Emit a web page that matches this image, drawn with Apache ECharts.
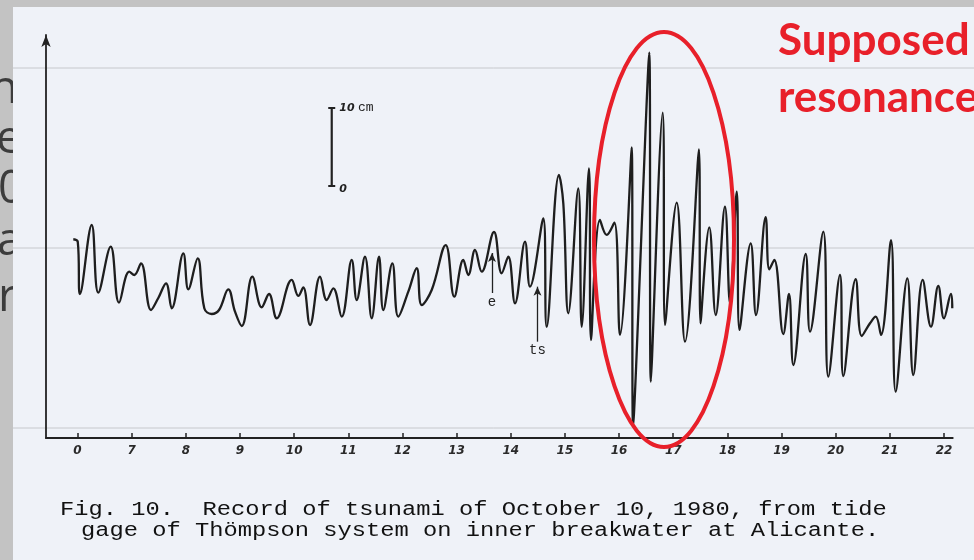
<!DOCTYPE html>
<html>
<head>
<meta charset="utf-8">
<script src="https://cdn.jsdelivr.net/npm/echarts@6/dist/echarts.min.js"></script>
<style>
html,body{margin:0;padding:0;background:#c3c3c3;}
#chart{width:974px;height:560px;}
</style>
</head>
<body>
<div id="chart"></div>
<script>
// time of record (hours)
const hours = [5.922,6.004,6.046,6.262,6.384,6.613,6.766,6.956,7.049,7.172,
  7.357,7.492,7.634,7.739,7.954,8.046,8.219,8.341,8.478,8.613,
  8.784,8.908,9.032,9.228,9.401,9.536,9.678,9.955,10.077,10.169,
  10.293,10.478,10.601,10.723,10.878,11.063,11.155,11.308,11.432,11.567,
  11.646,11.813,11.923,12.108,12.263,12.355,12.540,12.799,12.957,13.123,
  13.216,13.339,13.463,13.690,13.832,13.954,14.078,14.263,14.355,14.601,
  14.663,14.890,14.970,15.062,15.247,15.310,15.444,15.481,15.647,15.771,
  15.912,16.017,16.233,16.257,16.558,16.585,16.805,16.848,17.064,17.217,
  17.475,17.503,17.666,17.784,17.955,18.048,18.172,18.223,18.430,18.528,
  18.707,18.773,18.866,19.032,19.137,19.217,19.446,19.525,19.771,19.863,
  20.079,20.140,20.369,20.480,20.633,20.738,20.836,21.021,21.107,21.322,
  21.432,21.606,21.759,21.894,21.999,22.128,22.152];
// sea level (cm above the time axis)
const levelCm = [25.48,25.17,18.46,27.31,18.63,24.53,17.35,21.32,20.90,22.40,
  16.41,17.95,19.83,16.63,23.68,19.06,23.04,16.63,15.90,16.41,
  19.06,16.19,14.36,20.68,16.76,18.46,15.35,20.26,18.21,19.32,
  14.49,20.68,17.69,19.19,15.55,22.82,17.69,23.24,15.35,23.24,
  16.41,22.40,15.55,18.76,21.76,17.05,18.97,24.74,18.12,22.82,
  20.90,24.10,21.32,26.41,21.12,23.24,17.27,25.17,19.40,28.17,
  14.27,33.72,30.09,15.99,32.01,14.27,34.58,12.56,27.95,26.03,
  27.60,13.21,37.27,1.45,49.40,7.22,41.71,14.49,30.17,12.35,
  37.01,14.71,27.01,15.77,29.65,17.31,31.58,13.85,24.96,15.77,
  28.30,21.63,22.82,13.33,18.46,9.36,23.59,13.63,26.45,7.86,
  20.90,7.95,20.35,13.08,14.71,15.55,13.21,25.38,5.94,20.47,
  8.08,20.26,14.27,19.49,15.35,18.46,16.63];
const tickHours = [6,7,8,9,10,11,12,13,14,15,16,17,18,19,20,21,22];
const tickLabels = ['0','7','8','9','10','11','12','13','14','15','16','17','18','19','20','21','22'];
// annotation marks (hour, from cm, to cm)
const scaleBar = {hour: 10.694, bottom: 32.31, top: 42.31};
const arrowMarks = [
  {name: 'e', hour: 13.653, from: 18.59, to: 23.72},
  {name: 'ts', hour: 14.493, from: 12.35, to: 19.40}
];
const slideFragments = ['nl', 'e', '0', 'a,', 'r'];
const captionLines = [
  'Fig. 10.  Record of tsunami of October 10, 1980, from tide',
  'gage of Thömpson system on inner breakwater at Alicante.'
];
const noteLines = ['Supposed', 'resonance'];

const chart = echarts.init(document.getElementById('chart'), null, {renderer: 'canvas'});

const INK = '#1e1e1e';
const slideY = [90, 140, 190, 242, 298];
const slideX = [-10, -4, -2, -3, -2];

const graphic = [];
slideFragments.forEach((t, i) => {
  graphic.push({type: 'text', z: -3, silent: true,
    style: {text: t, x: slideX[i], y: slideY[i], fill: '#3c3c3c',
      font: '46px "Open Sans"', verticalAlign: 'middle'}});
});
graphic.push({type: 'rect', z: -2, silent: true,
  shape: {x: 13, y: 7, width: 961, height: 553}, style: {fill: '#eff2f8'}});
[68, 248, 428].forEach(y => {
  graphic.push({type: 'line', z: -1, silent: true,
    shape: {x1: 13, y1: y, x2: 974, y2: y}, style: {stroke: '#c6c8cc', lineWidth: 1}});
});
graphic.push({type: 'ellipse', z: 20, silent: true,
  shape: {cx: 664, cy: 239.5, rx: 70, ry: 207.5},
  style: {fill: 'none', stroke: '#e8202a', lineWidth: 4}});
noteLines.forEach((t, i) => {
  graphic.push({type: 'text', z: 20, silent: true,
    style: {text: t, x: 778, y: 41 + i * 57, fill: '#e8202a',
      font: 'bold 44px Lato', verticalAlign: 'middle'}});
});
captionLines.forEach((t, i) => {
  graphic.push({type: 'text', z: 20, silent: true,
    x: i === 0 ? 60 : 81, y: 510 + i * 20.5, scaleX: 1.1875, scaleY: 1,
    style: {text: t, x: 0, y: 0, fill: '#111',
      font: '20px "Liberation Mono"', verticalAlign: 'middle'}});
});

const option = {
  backgroundColor: '#c3c3c3',
  animation: false,
  grid: {left: 46, right: 21.3, top: 35, bottom: 122},
  xAxis: {
    type: 'value', min: 5.418, max: 22.16,
    axisLine: {show: true, onZero: false, lineStyle: {color: '#222', width: 2}},
    axisTick: {show: true, inside: true, length: 5, customValues: tickHours,
      lineStyle: {color: '#222', width: 1.5}},
    axisLabel: {show: true, customValues: tickHours,
      formatter: v => tickLabels[tickHours.indexOf(v)],
      color: '#2a2a2a', fontStyle: 'italic', fontWeight: 'bold',
      fontFamily: 'DejaVu Sans', fontSize: 12, margin: 7},
    splitLine: {show: false}
  },
  yAxis: {
    type: 'value', min: 0, max: 51.667,
    axisLine: {show: true, onZero: false, symbol: ['none', 'arrow'], symbolSize: [7, 12],
      lineStyle: {color: '#222', width: 1.8}},
    axisTick: {show: false}, axisLabel: {show: false}, splitLine: {show: false}
  },
  series: [
    {
      type: 'line', name: 'tide',
      data: hours.map((h, i) => [h, levelCm[i]]),
      smooth: 0.4, showSymbol: false, silent: true,
      lineStyle: {color: INK, width: 2.3},
      markLine: {
        silent: true, symbol: ['none', 'arrow'], symbolSize: [6, 9], precision: 3,
        lineStyle: {color: '#222', width: 1.3, type: 'solid'},
        label: {show: true, position: 'start', formatter: '{b}', color: '#222',
          fontFamily: 'Liberation Mono', fontSize: 14, distance: 2},
        emphasis: {disabled: true},
        data: arrowMarks.map(m => [
          {name: m.name, coord: [m.hour, m.from]},
          {coord: [m.hour, m.to]}
        ])
      }
    },
    {
      type: 'line', name: 'scale',
      silent: true, showSymbol: true, symbol: 'rect', symbolSize: [7, 2],
      itemStyle: {color: '#222'},
      lineStyle: {color: '#222', width: 2.2},
      data: [
        {value: [scaleBar.hour, scaleBar.bottom],
          label: {show: true, position: 'right', distance: 4, formatter: '{n|0}',
            rich: {n: {fontStyle: 'italic', fontWeight: 'bold', fontFamily: 'DejaVu Sans', fontSize: 11, color: '#222', padding: [6, 0, 0, 0]}}}},
        {value: [scaleBar.hour, scaleBar.top],
          label: {show: true, position: 'right', distance: 4, formatter: '{n|10} {u|cm}',
            rich: {n: {fontStyle: 'italic', fontWeight: 'bold', fontFamily: 'DejaVu Sans', fontSize: 11, color: '#222'},
                   u: {fontFamily: 'Liberation Mono', fontSize: 13, color: '#222'}}}}
      ]
    }
  ],
  graphic: graphic
};
chart.setOption(option);
</script>
</body>
</html>
